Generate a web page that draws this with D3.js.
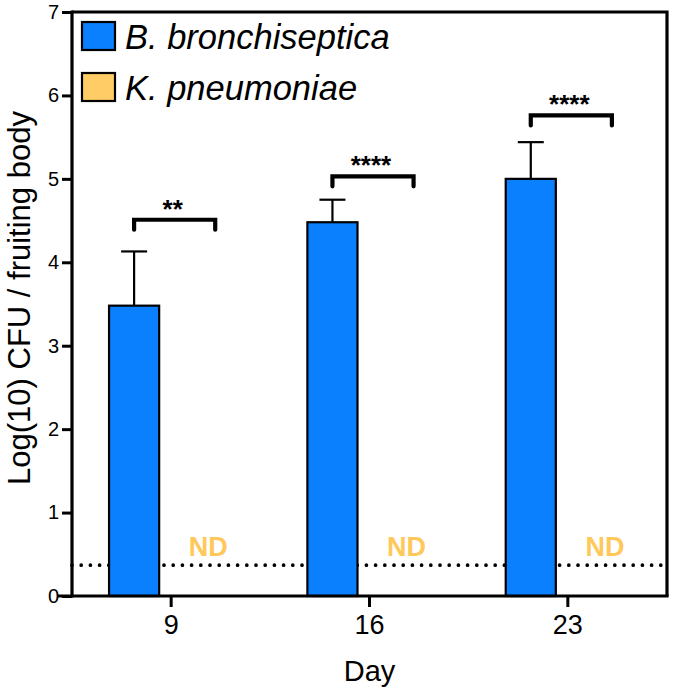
<!DOCTYPE html>
<html>
<head>
<meta charset="utf-8">
<script src="https://cdn.jsdelivr.net/npm/d3@7"></script>
<style>
  html, body { margin: 0; padding: 0; background: #fff; }
  svg { display: block; }
  text { font-family: "Liberation Sans", Arial, Helvetica, sans-serif; }
</style>
</head>
<body>
<svg id="chart" width="675" height="696"></svg>
<script>
// ---- data ----
const days = ["9", "16", "23"];
const seriesNames = ["B. bronchiseptica", "K. pneumoniae"];
const seriesColors = ["#0A80FF", "#FFCC66"];
const bronchiValues = [3.48, 4.48, 5.00];
const bronchiErrors = [0.65, 0.27, 0.44];
const pneumoniaeLabels = ["ND", "ND", "ND"];
const detectionLimit = 0.37;
const sigLabels = ["**", "****", "****"];
const sigLevels = [4.51, 5.03, 5.76];
const yTicks = [0, 1, 2, 3, 4, 5, 6, 7];
const xTitle = "Day";
const yTitle = "Log(10) CFU / fruiting body";

// ---- layout ----
const svg = d3.select("#chart");
const mLeft = 72, mRight = 667, mTop = 12, mBottom = 596;

const x0 = d3.scaleBand().domain(days).range([mLeft, mRight]).padding(0);
const x1 = d3.scaleBand().domain(seriesNames).range([0, x0.bandwidth()])
  .paddingInner(0.324).paddingOuter(0.5);
const y = d3.scaleLinear().domain([0, 7]).range([mBottom, mTop]);

const bw = x1.bandwidth();
const cB = d => x0(d) + x1(seriesNames[0]) + bw / 2;
const cK = d => x0(d) + x1(seriesNames[1]) + bw / 2;

// detection limit dotted line
svg.append("line")
  .attr("x1", mLeft).attr("x2", mRight)
  .attr("y1", y(detectionLimit)).attr("y2", y(detectionLimit))
  .attr("stroke", "#000").attr("stroke-width", 3.7)
  .attr("stroke-linecap", "round").attr("stroke-dasharray", "0 9.2");

// bars
const barData = days.map((d, i) => ({ day: d, v: bronchiValues[i], e: bronchiErrors[i] }));
svg.append("g").selectAll("rect").data(barData).join("rect")
  .attr("x", d => x0(d.day) + x1(seriesNames[0]))
  .attr("y", d => y(d.v))
  .attr("width", bw)
  .attr("height", d => y(0) - y(d.v))
  .attr("fill", seriesColors[0])
  .attr("stroke", "#000").attr("stroke-width", 2.2);

// error bars
const eg = svg.append("g").attr("stroke", "#000").attr("stroke-width", 2.2);
eg.selectAll("line.v").data(barData).join("line").attr("class", "v")
  .attr("x1", d => cB(d.day)).attr("x2", d => cB(d.day))
  .attr("y1", d => y(d.v)).attr("y2", d => y(d.v + d.e));
eg.selectAll("line.c").data(barData).join("line").attr("class", "c")
  .attr("x1", d => cB(d.day) - 13).attr("x2", d => cB(d.day) + 13)
  .attr("y1", d => y(d.v + d.e)).attr("y2", d => y(d.v + d.e));

// ND labels
svg.append("g").selectAll("text").data(days).join("text")
  .attr("x", d => cK(d))
  .attr("y", y(detectionLimit) - 9)
  .attr("text-anchor", "middle")
  .attr("font-size", 27).attr("font-weight", "bold")
  .attr("fill", "#FFC85A")
  .text((d, i) => pneumoniaeLabels[i]);

// significance brackets
const sg = svg.append("g");
days.forEach((d, i) => {
  const xa = cB(d), xb = cK(d) + 7, yy = y(sigLevels[i]);
  sg.append("path")
    .attr("d", `M${xa},${yy + 10}V${yy}H${xb}V${yy + 10}`)
    .attr("fill", "none").attr("stroke", "#000").attr("stroke-width", 4.2)
    .attr("stroke-linejoin", "miter").attr("stroke-linecap", "round");
  sg.append("text")
    .attr("x", (xa + xb) / 2 - 2).attr("y", yy - 2)
    .attr("text-anchor", "middle")
    .attr("font-size", 26).attr("font-weight", "bold")
    .text(sigLabels[i]);
});

// frame (top & right)
svg.append("path")
  .attr("d", `M${mLeft},${mTop}H${mRight}V${mBottom}`)
  .attr("fill", "none").attr("stroke", "#000").attr("stroke-width", 3.2);

// y axis
const yAxis = svg.append("g").attr("transform", `translate(${mLeft},0)`)
  .call(d3.axisLeft(y).tickValues(yTicks).tickFormat(d3.format("d")).tickSize(10).tickPadding(3));
yAxis.select(".domain").attr("stroke-width", 3.2).attr("d", `M0,${mBottom + 1.6}V${mTop - 1.6}`);
yAxis.selectAll(".tick line").attr("stroke-width", 3);
yAxis.selectAll(".tick text").attr("font-size", 20).attr("fill", "#000")
  .style("font-family", "Liberation Sans, Arial, sans-serif");

// x axis
const xAxis = svg.append("g").attr("transform", `translate(0,${mBottom})`)
  .call(d3.axisBottom(x0).tickSize(11).tickPadding(8));
xAxis.select(".domain").attr("stroke-width", 3.2).attr("d", `M${mLeft - 14},0H${mRight + 1.6}`);
xAxis.selectAll(".tick line").attr("stroke-width", 3);
xAxis.selectAll(".tick text").attr("font-size", 27).attr("fill", "#000")
  .style("font-family", "Liberation Sans, Arial, sans-serif");

// axis titles
svg.append("text")
  .attr("x", (mLeft + mRight) / 2).attr("y", 681)
  .attr("text-anchor", "middle").attr("font-size", 29)
  .text(xTitle);
svg.append("text")
  .attr("transform", `translate(30,298) rotate(-90)`)
  .attr("text-anchor", "middle").attr("font-size", 31)
  .text(yTitle);

// legend
const lg = svg.append("g");
seriesNames.forEach((s, i) => {
  const ly = 22 + i * 51;
  lg.append("rect").attr("x", 82).attr("y", ly).attr("width", 33).attr("height", 28)
    .attr("fill", seriesColors[i]).attr("stroke", "#000").attr("stroke-width", 2.2);
  lg.append("text").attr("x", 125).attr("y", ly + 27)
    .attr("font-size", 34.5).attr("font-style", "italic")
    .text(s);
});
</script>
</body>
</html>
